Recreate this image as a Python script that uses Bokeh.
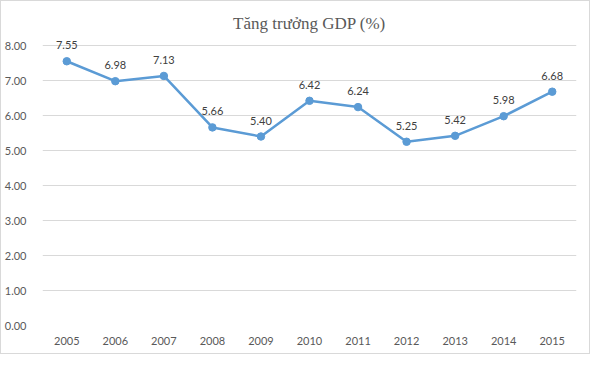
from bokeh.plotting import figure
from bokeh.models import ColumnDataSource, Range1d, FactorRange, FixedTicker, NumeralTickFormatter, Title
from bokeh.core.properties import value
from bokeh.embed import file_html
from bokeh.resources import INLINE

years = ["2005", "2006", "2007", "2008", "2009", "2010", "2011", "2012", "2013", "2014", "2015"]
growth = [7.55, 6.98, 7.13, 5.66, 5.40, 6.42, 6.24, 5.25, 5.42, 5.98, 6.68]
labels = ["%.2f" % v for v in growth]
y_ticks = [0, 1, 2, 3, 4, 5, 6, 7, 8]
title_text = "Tăng trưởng GDP (%)"

LINE = "#5B9BD5"
TXT = "#595959"

src = ColumnDataSource(dict(x=years, y=growth, lab=labels))

p = figure(width=590, height=354, x_range=FactorRange(*years), y_range=Range1d(0, 8.2),
           output_backend="svg", toolbar_location=None,
           min_border_left=41, min_border_right=15, min_border_top=37, min_border_bottom=30)
p.styles = {"border": "1px solid #D9D9D9", "box-sizing": "border-box"}
p.outline_line_color = None
p.background_fill_color = "white"
p.border_fill_color = "white"

t = Title(text=title_text, align="center", text_font="Liberation Serif", text_font_size="17px",
          text_color=TXT, text_font_style="normal", standoff=11, offset=-13)
p.add_layout(t, "above")

p.line("x", "y", source=src, line_color=LINE, line_width=2.5)
p.scatter("x", "y", source=src, size=7.5, fill_color=LINE, line_color=LINE)
p.text("x", "y", text="lab", source=src, text_align="center", text_baseline="middle",
       y_offset=-16, text_font=value("Lato"), text_font_size="11px", text_color="#404040")

p.xgrid.grid_line_color = None
p.ygrid.grid_line_color = "#D9D9D9"
p.ygrid.grid_line_width = 1

p.yaxis.ticker = FixedTicker(ticks=y_ticks)
p.yaxis.formatter = NumeralTickFormatter(format="0.00")
for ax in (p.xaxis[0], p.yaxis[0]):
    ax.axis_line_color = None
    ax.major_tick_line_color = None
    ax.minor_tick_line_color = None
    ax.major_label_text_font = "Lato"
    ax.major_label_text_font_size = "11px"
    ax.major_label_text_color = TXT
p.yaxis.major_label_standoff = 10
p.xaxis.major_label_standoff = 5

open("out.html", "w").write(file_html(p, INLINE))
